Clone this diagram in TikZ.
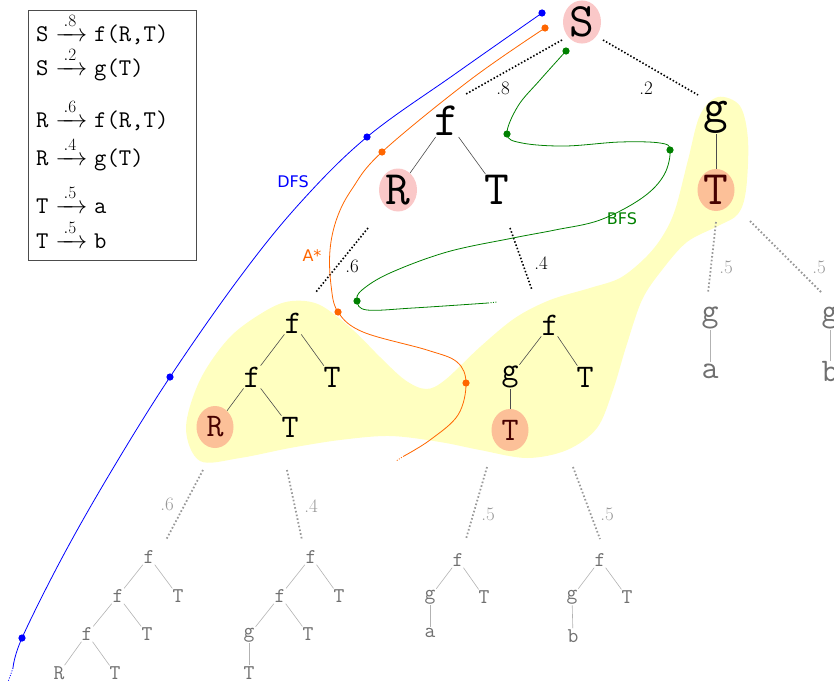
\documentclass[tikz,border=0pt]{standalone}
\usepackage{amsmath}
\usepackage{fontspec}
\newfontfamily\labfont{DejaVu Sans}
\usetikzlibrary{shapes.geometric}
\definecolor{pinkc}{RGB}{250,200,200}
\definecolor{salmonc}{RGB}{252,192,152}
\definecolor{blobc}{RGB}{255,255,192}
\definecolor{dfsc}{RGB}{0,0,255}
\definecolor{astarc}{RGB}{255,102,0}
\definecolor{bfsc}{RGB}{0,128,0}
\definecolor{greytxt}{RGB}{112,112,112}
\definecolor{darkr}{RGB}{70,0,0}
\tikzset{
  big/.style={font=\fontsize{48}{48}\selectfont\ttfamily, inner sep=1pt},
  mid/.style={font=\fontsize{33}{33}\selectfont\ttfamily, inner sep=1pt},
  sml/.style={font=\fontsize{21}{21}\selectfont\ttfamily, inner sep=1pt, text=greytxt},
  gmid/.style={mid, text=greytxt},
  hl/.style={ellipse, fill=pinkc, minimum width=38pt, minimum height=43pt, inner sep=0pt},
  hlo/.style={ellipse, fill=salmonc, minimum width=37pt, minimum height=42pt, inner sep=0pt, text=darkr},
  treeedge/.style={draw=black!70, line width=0.6pt},
  greyedge/.style={draw=black!30, line width=0.6pt},
  bdot/.style={draw=black, line width=1.6pt, dash pattern=on 1.5pt off 2pt},
  gdot/.style={draw=black!40, line width=1.8pt, dash pattern=on 1.6pt off 2.2pt},
  plab/.style={font=\fontsize{19}{19}\selectfont, inner sep=0pt},
  gplab/.style={plab, text=black!40},
  leg/.style={font=\fontsize{24}{24}\selectfont, anchor=base west, inner sep=0pt},
  alg/.style={font=\labfont\fontsize{16}{16}\selectfont, inner sep=0pt},
  path/.style={line width=0.8pt},
}
\newcommand{\rulearrow}[1]{\xrightarrow{\,#1\,}}
\begin{document}
\begin{tikzpicture}[x=1pt,y=-1pt]
\useasboundingbox (0,0) rectangle (834,688);
% yellow blob
\fill[blobc] plot[smooth cycle, tension=0.55] coordinates {
 (200,461) (186,428) (200,380) (230,337) (267,310) (292,301) (320,305) (353,330)
 (380,357) (405,380) (426,389) (445,380) (480,347) (515,318) (550,300) (590,288)
 (620,278) (645,258) (662,237) (675,210) (688,160) (700,115) (718,97) (740,106)
 (748,140) (746,190) (738,214) (718,226) (687,242) (662,270) (642,300) (626,347)
 (613,390) (597,428) (567,450) (527,458) (480,450) (440,442) (390,436) (340,440)
 (290,448) (240,458)};

% legend
\node[draw=black!70, line width=0.6pt, anchor=north west, minimum width=168pt, minimum height=250pt, inner sep=0pt] (legend) at (28,10) {};
\node[leg] (r1) at (36,41) {$\text{\ttfamily S}\rulearrow{.8}\text{\ttfamily f(R,T)}$};
\node[leg] (r2) at (36,75) {$\text{\ttfamily S}\rulearrow{.2}\text{\ttfamily g(T)}$};
\node[leg] (r3) at (36,127) {$\text{\ttfamily R}\rulearrow{.6}\text{\ttfamily f(R,T)}$};
\node[leg] (r4) at (36,165) {$\text{\ttfamily R}\rulearrow{.4}\text{\ttfamily g(T)}$};
\node[leg] (r5) at (36,213) {$\text{\ttfamily T}\rulearrow{.5}\text{\ttfamily a}$};
\node[leg] (r6) at (36,248) {$\text{\ttfamily T}\rulearrow{.5}\text{\ttfamily b}$};

% main tree
\node[big,hl] (S) at (582,22) {S};
\node[big] (f1) at (447,121) {f};
\node[big,hl] (R1) at (398,190) {R};
\node[big] (T1) at (497,190) {T};
\node[big] (g1) at (716,117) {g};
\node[big,hlo] (T2) at (716,190) {T};
\draw[treeedge] (f1) -- (R1);
\draw[treeedge] (f1) -- (T1);
\draw[treeedge] (g1) -- (T2);

\draw[bdot] (562,40) coordinate (a1) -- (466,94) coordinate (a2);
\node[plab] (l8) at (503,88) {.8};
\draw[bdot] (603,40) coordinate (b1) -- (698,95) coordinate (b2);
\node[plab] (l2) at (646,88) {.2};
\draw[bdot] (368,228) coordinate (c1) -- (316,292) coordinate (c2);
\node[plab] (l6) at (352,266) {.6};
\draw[bdot] (510,228) coordinate (d1) -- (532,290) coordinate (d2);
\node[plab] (l4) at (541,263) {.4};

% level 2 left
\node[mid] (f2) at (293,323) {f};
\node[mid] (f3) at (252,377) {f};
\node[mid] (T3) at (332,377) {T};
\node[mid,hlo] (R2) at (215,427) {R};
\node[mid] (T4) at (290,427) {T};
\draw[treeedge] (f2) -- (f3);
\draw[treeedge] (f2) -- (T3);
\draw[treeedge] (f3) -- (R2);
\draw[treeedge] (f3) -- (T4);
% level 2 right
\node[mid] (f4) at (550,325) {f};
\node[mid] (g2) at (510,377) {g};
\node[mid] (T5) at (585,377) {T};
\node[mid,hlo] (T6) at (510,430) {T};
\draw[treeedge] (f4) -- (g2);
\draw[treeedge] (f4) -- (T5);
\draw[treeedge] (g2) -- (T6);

% right grey trees
\draw[gdot] (716,222) coordinate (e1) -- (708,293) coordinate (e2);
\node[gplab] (m1) at (726,267) {.5};
\draw[gdot] (750,221) coordinate (e3) -- (822,293) coordinate (e4);
\node[gplab] (m2) at (819,267) {.5};
\node[gmid] (g3) at (710,318) {g};
\node[gmid] (aa) at (710,371) {a};
\node[gmid] (g4) at (830,318) {g};
\node[gmid] (bb) at (830,372) {b};
\draw[greyedge] (g3) -- (aa);
\draw[greyedge] (g4) -- (bb);

% bottom grey dotted
\draw[gdot] (203,470) coordinate (h1) -- (166,540) coordinate (h2);
\node[gplab] (m3) at (167,504) {.6};
\draw[gdot] (287,470) coordinate (h3) -- (302,540) coordinate (h4);
\node[gplab] (m4) at (311,506) {.4};
\draw[gdot] (487,467) coordinate (h5) -- (466,539) coordinate (h6);
\node[gplab] (m5) at (488,514) {.5};
\draw[gdot] (573,467) coordinate (h7) -- (600,539) coordinate (h8);
\node[gplab] (m6) at (607,514) {.5};

% grey tree A
\node[sml] (A1) at (149,557) {f};
\node[sml] (A2) at (118,596) {f};
\node[sml] (A3) at (178,596) {T};
\node[sml] (A4) at (87,634) {f};
\node[sml] (A5) at (147,634) {T};
\node[sml] (A6) at (59,673) {R};
\node[sml] (A7) at (115,673) {T};
\draw[greyedge] (A1) -- (A2);
\draw[greyedge] (A1) -- (A3);
\draw[greyedge] (A2) -- (A4);
\draw[greyedge] (A2) -- (A5);
\draw[greyedge] (A4) -- (A6);
\draw[greyedge] (A4) -- (A7);
% grey tree B
\node[sml] (B1) at (311,557) {f};
\node[sml] (B2) at (280,596) {f};
\node[sml] (B3) at (339,596) {T};
\node[sml] (B4) at (249,635) {g};
\node[sml] (B5) at (308,634) {T};
\node[sml] (B6) at (249,673) {T};
\draw[greyedge] (B1) -- (B2);
\draw[greyedge] (B1) -- (B3);
\draw[greyedge] (B2) -- (B4);
\draw[greyedge] (B2) -- (B5);
\draw[greyedge] (B4) -- (B6);
% grey tree C
\node[sml] (C1) at (458,560) {f};
\node[sml] (C2) at (430,597) {g};
\node[sml] (C3) at (484,597) {T};
\node[sml] (C4) at (430,633) {a};
\draw[greyedge] (C1) -- (C2);
\draw[greyedge] (C1) -- (C3);
\draw[greyedge] (C2) -- (C4);
% grey tree D
\node[sml] (D1) at (600,560) {f};
\node[sml] (D2) at (572,597) {g};
\node[sml] (D3) at (627,597) {T};
\node[sml] (D4) at (573,636) {b};
\draw[greyedge] (D1) -- (D2);
\draw[greyedge] (D1) -- (D3);
\draw[greyedge] (D2) -- (D4);

% DFS
\draw[path, dfsc] plot[smooth, tension=0.6] coordinates {(542,13) (455,74) (367,137) (300,203) (240,277) (170,377) (112,470) (63,556) (22,638) (13,668)};
\draw[path, dfsc, dash pattern=on 1pt off 1.5pt] (13,668) -- (8,682);
\fill[dfsc] (542,13) circle (3.6) (367,137) circle (3.6) (170,377) circle (3.6) (22,638) circle (3.6);
\node[alg, text=dfsc] (dfs) at (293,182) {DFS};

% A*
\draw[path, astarc] plot[smooth, tension=0.6] coordinates {(545,28) (470,80) (382,152) (352,189) (337,218) (330,250) (331,285) (338,312) (363,332) (427,350) (457,362) (466,383) (458,415) (430,440) (404,456)};
\draw[path, astarc, dash pattern=on 1pt off 1.5pt] (404,456) -- (396,461);
\fill[astarc] (545,28) circle (3.6) (382,152) circle (3.6) (338,312) circle (3.6) (466,383) circle (3.6);
\node[alg, text=astarc] (astar) at (312,256) {A*};

% BFS
\draw[path, bfsc] plot[smooth, tension=0.6] coordinates {(566,51) (540,80) (518,106) (507,134) (522,143) (565,146) (620,142) (660,143) (670,150) (664,175) (642,198) (600,220) (555,230) (513,238) (447,252) (390,273) (362,290) (357,301) (367,310) (413,308) (488,303)};
\draw[path, bfsc, dash pattern=on 1pt off 1.5pt] (488,303) -- (497,302);
\fill[bfsc] (566,51) circle (3.6) (507,134) circle (3.6) (670,150) circle (3.6) (357,301) circle (3.6);
\node[alg, text=bfsc] (bfs) at (622,219) {BFS};
\end{tikzpicture}
\end{document}
